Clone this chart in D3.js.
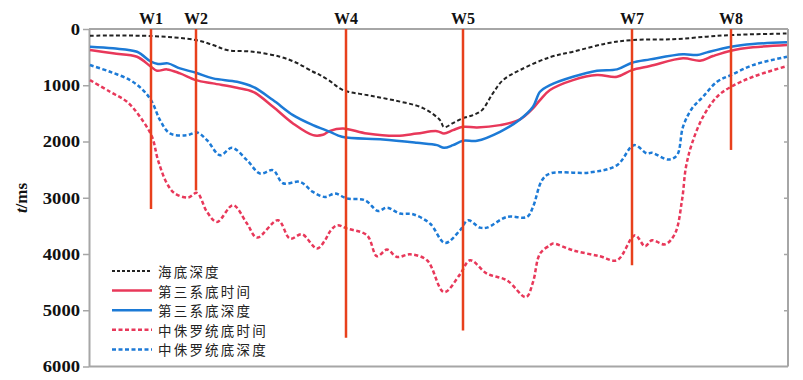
<!DOCTYPE html>
<html><head><meta charset="utf-8">
<script src="https://cdnjs.cloudflare.com/ajax/libs/d3/7.8.5/d3.min.js"></script>
<style>body{margin:0;background:#fff}svg{display:block}</style>
</head><body><div id="chart"></div>
<script>
// ---- data (x = trace position along profile, value in ms) ----
const yTicks = [0,1000,2000,3000,4000,5000,6000];
const wellNames = ["W1","W2","W4","W5","W7","W8"];
const wellPos   = [62,107,257,374,543,642];
const wellBottom= [3200,2870,5490,5360,4200,2150];

const seabedX = [1,62,107,124,138,164,191,208,224,231,241,254,278,304,334,351,355,364,374,384,393,404,414,431,461,484,518,543,584,618,642,698];
const seabedY = [119,125,196,285,374,404,493,605,760,819,926,1086,1175,1264,1406,1620,1745,1673,1585,1531,1442,1140,908,730,500,404,255,196,182,136,107,80];

const tertDepthX = [1,24,48,62,69,79,91,107,124,148,164,184,204,224,241,253,294,328,348,355,364,374,388,411,431,444,451,461,484,508,528,543,561,594,608,618,642,664,698];
const tertDepthY = [315,344,404,582,623,611,700,778,878,938,1027,1264,1531,1709,1828,1917,1964,2024,2065,2113,2065,1988,1988,1828,1608,1383,1116,997,849,742,718,600,540,451,463,415,315,267,237];

const tertTimeX = [1,24,48,62,68,78,91,107,124,148,164,184,204,224,234,241,254,278,308,328,348,355,364,374,388,411,431,444,451,461,484,508,528,543,561,594,611,624,642,664,698];
const tertTimeY = [374,433,493,671,742,718,789,908,967,1045,1116,1383,1679,1887,1880,1810,1768,1857,1899,1857,1816,1857,1798,1739,1751,1709,1608,1412,1264,1086,908,819,849,730,659,522,564,481,386,326,285];

const jurDepthX = [1,21,41,54,63,71,81,98,108,118,131,143,158,171,184,194,211,224,236,246,258,276,289,298,311,324,341,356,371,379,391,398,418,438,444,453,461,501,528,545,558,563,579,588,594,603,614,628,642,664,698];
const jurDepthY = [641,760,908,1086,1294,1620,1857,1887,1840,1976,2243,2113,2332,2569,2510,2742,2718,2897,2985,2926,3014,3044,3235,3175,3281,3294,3459,3804,3578,3400,3531,3531,3341,3341,3163,2688,2569,2550,2421,2065,2213,2201,2320,2243,1739,1412,1205,938,819,641,493];

const jurTimeX = [1,21,38,51,63,69,78,86,99,108,118,128,144,158,168,189,201,213,228,236,241,248,258,278,288,298,308,321,338,355,371,381,398,418,437,444,451,461,464,484,511,528,546,556,563,576,586,593,597,603,614,628,642,664,698];
const jurTimeY = [908,1116,1294,1561,1917,2332,2747,2926,2997,2914,3252,3430,3133,3459,3708,3400,3726,3650,3904,3756,3600,3489,3548,3667,4041,3922,4053,4006,4112,4677,4362,4112,4349,4469,4766,4499,3993,3845,3815,3934,4041,4112,3667,3863,3756,3828,3637,3044,2450,2035,1561,1205,1027,849,659];

const seriesNames = ["海底深度","第三系底时间","第三系底深度","中侏罗统底时间","中侏罗统底深度"];
const seriesColors = ["#222222","#e8385a","#1c7ad6","#e8385a","#1c7ad6"];
const seriesDash = ["4,2.5",null,null,"4,2.5","4,2.5"];
const seriesData = [
  [seabedX, seabedY],
  [tertTimeX, tertTimeY],
  [tertDepthX, tertDepthY],
  [jurTimeX, jurTimeY],
  [jurDepthX, jurDepthY]
];

const W = 803, H = 380;
const svg = d3.select("#chart").append("svg").attr("width", W).attr("height", H);
const x = d3.scaleLinear().domain([0, 699]).range([89, 788]);
const y = d3.scaleLinear().domain([0, 6000]).range([29, 366.5]);
const axisColor = "#a6a6a6";

// frame: top, right, bottom
svg.append("line").attr("x1", x(0)).attr("x2", x(699)).attr("y1", y(0)).attr("y2", y(0))
  .attr("stroke", axisColor).attr("stroke-width", 2);
svg.append("line").attr("x1", x(699)).attr("x2", x(699)).attr("y1", y(0)).attr("y2", y(6000))
  .attr("stroke", axisColor).attr("stroke-width", 2);
svg.append("line").attr("x1", x(0)).attr("x2", x(699)).attr("y1", y(6000)).attr("y2", y(6000))
  .attr("stroke", axisColor).attr("stroke-width", 2);

// right inner ticks
const rAxis = svg.append("g").attr("transform", `translate(${x(699)},0)`)
  .call(d3.axisLeft(y).tickValues(yTicks.slice(1, -1)).tickSize(4).tickFormat(""));
rAxis.select(".domain").remove();
rAxis.selectAll("line").attr("stroke", axisColor).attr("stroke-width", 1.5);

// left axis
const fmt = d3.format("d");
const lAxis = svg.append("g").attr("transform", `translate(${x(0)},0)`)
  .call(d3.axisLeft(y).tickValues(yTicks).tickFormat(fmt)
    .tickSize(6).tickPadding(3).tickSizeOuter(0));
lAxis.select(".domain").attr("stroke", axisColor).attr("stroke-width", 2);
lAxis.selectAll(".tick line").attr("stroke", axisColor).attr("stroke-width", 1.5);
lAxis.selectAll("text").attr("fill", "#111").style("font-family", "'Liberation Serif', serif")
  .style("font-size", "17px").style("font-weight", "bold")
  .attr("textLength", d => fmt(d).length * 9.3).attr("lengthAdjust", "spacingAndGlyphs");

// y label
const yl = svg.append("text").attr("transform", "translate(27,198) rotate(-90)")
  .attr("text-anchor", "middle").style("font-family", "'Liberation Serif', serif")
  .style("font-size", "17px").style("font-weight", "bold").attr("fill", "#111");
yl.append("tspan").style("font-style", "italic").text("t");
yl.append("tspan").text("/ms");

// series
const line = d3.line().x(d => x(d[0])).y(d => y(d[1])).curve(d3.curveCatmullRom.alpha(0.5));
seriesData.forEach((s, i) => {
  const pts = s[0].map((v, j) => [v, s[1][j]]);
  const p = svg.append("path").datum(pts).attr("d", line).attr("fill", "none")
    .attr("stroke", seriesColors[i]).attr("stroke-width", i === 0 ? 2 : 2.5);
  if (seriesDash[i]) p.attr("stroke-dasharray", seriesDash[i]);
});

// wells
wellNames.forEach((n, i) => {
  svg.append("line").attr("x1", x(wellPos[i])).attr("x2", x(wellPos[i]))
    .attr("y1", y(0)).attr("y2", y(wellBottom[i]))
    .attr("stroke", "#e8401c").attr("stroke-width", 2.5);
  svg.append("text").attr("x", x(wellPos[i])).attr("y", 24).attr("text-anchor", "middle")
    .style("font-family", "'Liberation Serif', serif").style("font-size", "16px")
    .style("font-weight", "bold").attr("fill", "#111").text(n);
});

// legend
const lg = svg.append("g");
seriesNames.forEach((n, i) => {
  const cy = 271 + i * 19.6;
  const l = lg.append("line").attr("x1", 112).attr("x2", 152).attr("y1", cy).attr("y2", cy)
    .attr("stroke", seriesColors[i]).attr("stroke-width", i === 0 ? 2 : 2.5);
  if (seriesDash[i]) l.attr("stroke-dasharray", i === 0 ? "3,2" : "4,2.5");
  lg.append("text").attr("x", 158).attr("y", cy).attr("dominant-baseline", "central")
    .style("font-family", "'Noto Sans CJK SC', sans-serif").style("font-size", "13.5px")
    .style("letter-spacing", "2.2px").attr("fill", "#222").text(n);
});
</script></body></html>
